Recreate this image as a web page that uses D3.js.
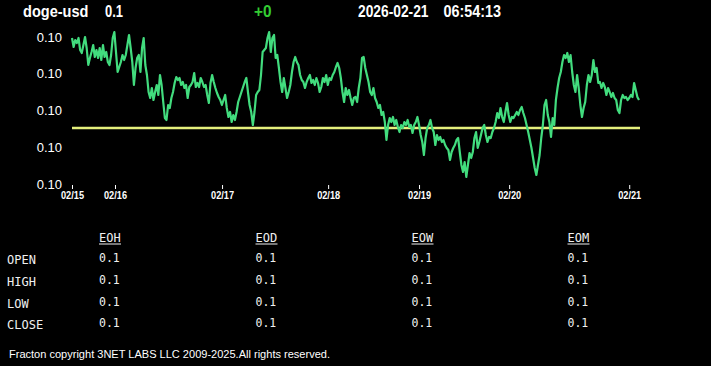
<!DOCTYPE html>
<html><head><meta charset="utf-8">
<script src="https://cdn.jsdelivr.net/npm/d3@7"></script>
<style>
html,body{margin:0;padding:0;background:#000;}
svg{display:block;}
</style></head><body>
<svg id="c" width="711" height="366"></svg>
<script>
// ---- data ----
const symbol = "doge-usd";
const lastPrice = "0.1";
const change = "+0";
const dateText = "2026-02-21";
const timeText = "06:54:13";
const openLevel = 0.1;
const dayLabels = ["02/15","02/16","02/17","02/18","02/19","02/20","02/21"];
const dayTickIndex = [0, 26.4, 92.1, 157.2, 213.0, 268.3, 342.0];
const yTickCount = 5;
const prices = [
0.1009,0.10081,0.10088,0.10085,0.1009,0.10078,0.10075,0.10083,0.10091,0.1008,0.10063,0.1007,0.10076,0.10083,0.10071,0.10078,0.1007,0.1008,0.10068,0.10083,0.10071,0.10076,0.10066,0.10063,0.10073,0.1009,0.10096,0.10076,0.10056,0.10061,0.10066,0.10073,0.10068,0.10073,0.10083,0.10093,0.1008,0.10066,0.10043,0.1006,0.1007,0.10073,0.10056,0.1008,0.1009,0.10063,0.10053,0.10036,0.1003,0.1004,0.10028,0.10036,0.10043,0.10033,0.10053,0.10043,0.10026,0.1001,
0.10008,0.10023,0.1002,0.1003,0.10036,0.10045,0.10051,0.10048,0.1005,0.10043,0.10046,0.1004,0.10043,0.1003,0.10041,0.10043,0.10046,0.10055,0.10041,0.10045,0.10041,0.1005,0.10046,0.10041,0.10043,0.10033,0.10025,0.10045,0.10053,0.10046,0.1004,0.10035,0.10031,0.10028,0.10023,0.10028,0.10033,0.1002,0.10011,0.10016,0.10006,0.10013,0.10008,0.10016,0.10026,0.10031,0.10036,0.10041,0.10046,0.1005,0.10036,0.10023,0.10016,0.10003,0.10016,0.10033,0.10036,0.10038,0.10053,
0.10076,0.10078,0.1008,0.1009,0.10096,0.10076,0.1009,0.10093,0.1007,0.10073,0.1006,0.10046,0.10036,0.1005,0.1004,0.1003,0.10036,0.10043,0.10056,0.10066,0.10071,0.10066,0.10063,0.10053,0.10048,0.10046,0.1004,0.10046,0.1005,0.10053,0.10045,0.10048,0.10043,0.1005,0.10045,0.10036,0.10041,0.1005,0.10046,0.10053,0.10043,0.1005,0.10048,0.10053,0.10056,0.10061,0.10065,0.1006,0.1005,0.10036,0.10026,0.1004,0.10033,0.10038,0.1003,0.10023,0.1003,0.10031,0.10026,0.1004,0.1005,
0.1007,0.10071,0.1006,0.10053,0.10046,0.10036,0.10033,0.1004,0.1003,0.10026,0.1002,0.10023,0.10013,0.10016,0.10006,0.09988,0.10003,0.1001,0.10006,0.10011,0.10003,0.10008,0.10001,0.09996,0.10003,0.1,0.10006,0.10003,0.10008,0.10001,0.10003,0.09995,0.10003,0.10006,0.10011,0.10003,0.09993,0.09986,0.09973,0.0999,0.1,0.10003,0.10008,0.1,0.09996,0.09983,0.09993,0.09988,0.09991,0.09986,0.09988,0.09983,0.0998,0.09978,0.09968,0.09976,0.0998,0.09983,0.09988,
0.0999,0.09976,0.09963,0.09956,0.09966,0.09951,0.09963,0.09975,0.0997,0.09976,0.0999,0.09996,0.0998,0.09986,0.09993,0.1,0.10003,0.09993,0.09986,0.09991,0.0999,0.09996,0.1,0.10006,0.10015,0.1001,0.1002,0.10011,0.10006,0.10016,0.10025,0.10013,0.10006,0.10011,0.1001,0.10013,0.10016,0.10013,0.10018,0.10021,0.10015,0.1001,0.10003,0.09996,0.09988,0.0998,0.0997,0.0996,0.09953,0.09963,0.09973,0.0999,0.10003,0.10023,0.10028,0.10013,0.10006,0.09991,0.1001,
0.10003,0.10028,0.1004,0.1005,0.10056,0.10066,0.10073,0.1007,0.10075,0.10066,0.10073,0.10056,0.10043,0.10036,0.10053,0.1004,0.10023,0.10011,0.1002,0.10026,0.10043,0.10053,0.10046,0.10053,0.10068,0.10056,0.1006,0.10045,0.10046,0.1004,0.10045,0.10041,0.10033,0.1004,0.10036,0.10031,0.10035,0.1003,0.10028,0.10018,0.10015,0.10028,0.10033,0.1003,0.10031,0.10028,0.1003,0.10033,0.10031,0.10045,0.10038,0.10031,0.10028
];
const yDomain = [0.09944, 0.10091];
const tableCols = ["EOH","EOD","EOW","EOM"];
const tableRows = ["OPEN","HIGH","LOW","CLOSE"];
const tableValues = [
  ["0.1","0.1","0.1","0.1"],
  ["0.1","0.1","0.1","0.1"],
  ["0.1","0.1","0.1","0.1"],
  ["0.1","0.1","0.1","0.1"]
];
const footer = "Fracton copyright 3NET LABS LLC 2009-2025.All rights reserved.";

// ---- drawing ----
const svg = d3.select("#c");
const sans = "'Liberation Sans', Arial, sans-serif";
const mono = "'DejaVu Sans Mono', 'Liberation Mono', monospace";

// header
const hdr = [
  {t: symbol, x: 23, w: 65.5, c: "#fff"},
  {t: lastPrice, x: 105, w: 18, c: "#fff"},
  {t: change, x: 254, w: 17.5, c: "#33cc33"},
  {t: dateText, x: 358, w: 70.5, c: "#fff"},
  {t: timeText, x: 443.5, w: 57.5, c: "#fff"}
];
svg.selectAll("text.hdr").data(hdr).join("text")
  .attr("class","hdr")
  .attr("x", d => d.x).attr("y", 17)
  .attr("textLength", d => d.w).attr("lengthAdjust","spacingAndGlyphs")
  .attr("fill", d => d.c)
  .style("font-family", sans).style("font-weight","bold").style("font-size","16.5px")
  .text(d => d.t);

const x = d3.scaleLinear().domain([0, prices.length - 1]).range([72, 639]);
const y = d3.scaleLinear().domain(yDomain).range([184, 37]);

// y labels
const yTicks = d3.range(yTickCount).map(i => yDomain[0] + i * (yDomain[1] - yDomain[0]) / (yTickCount - 1));
svg.append("g").selectAll("text").data(yTicks).join("text")
  .attr("x", 62).attr("y", d => y(d)).attr("dy", "0.35em")
  .attr("text-anchor","end").attr("fill","#fff")
  .style("font-family", sans).style("font-size","13px")
  .text(d => d3.format(".2f")(d));

// x axis
const xAxis = d3.axisBottom(x).tickValues(dayTickIndex)
  .tickFormat((d, i) => dayLabels[i]).tickSize(4).tickPadding(3);
const gx = svg.append("g").attr("transform","translate(0,185)").call(xAxis);
gx.select(".domain").remove();
gx.selectAll("line").attr("stroke","#fff");
gx.selectAll("text").attr("fill","#fff")
  .style("font-family", sans).style("font-weight","bold").style("font-size","10px")
  .attr("textLength", 23).attr("lengthAdjust","spacingAndGlyphs");

// open level line
svg.append("line")
  .attr("x1", x(0)).attr("x2", x(prices.length - 1) + 1)
  .attr("y1", y(openLevel)).attr("y2", y(openLevel))
  .attr("stroke","#e4ef7c").attr("stroke-width", 2.5);

// price line
const line = d3.line().x((d, i) => x(i)).y(d => y(d));
svg.append("path").datum(prices)
  .attr("d", line).attr("fill","none")
  .attr("stroke","#42dc7e").attr("stroke-width", 2.2)
  .attr("stroke-linejoin","round");

// table
const colX = [99, 255.5, 411.5, 567.5];
const tbl = svg.append("g");
tbl.selectAll("text.col").data(tableCols).join("text")
  .attr("class","col").attr("x", (d, i) => colX[i]).attr("y", 242)
  .attr("fill","#f0f0f0").style("font-family", mono).style("font-size","12px")
  .text(d => d);
tbl.selectAll("line.ul").data(tableCols).join("line")
  .attr("class","ul")
  .attr("x1", (d, i) => colX[i]).attr("x2", (d, i) => colX[i] + 22)
  .attr("y1", 244).attr("y2", 244).attr("stroke","#f0f0f0").attr("stroke-width", 1);
const rowY = [264, 286, 307.5, 329];
tbl.selectAll("text.row").data(tableRows).join("text")
  .attr("class","row").attr("x", 7).attr("y", (d, i) => rowY[i])
  .attr("fill","#f0f0f0").style("font-family", mono).style("font-size","12px")
  .text(d => d);
tableValues.forEach((row, r) => {
  tbl.selectAll("text.v" + r).data(row).join("text")
    .attr("class","v" + r).attr("x", (d, i) => colX[i]).attr("y", rowY[r] - 2)
    .attr("fill","#f0f0f0").style("font-family", mono).style("font-size","11.5px")
    .text(d => d);
});

// footer
svg.append("text").attr("x", 9).attr("y", 358)
  .attr("textLength", 321).attr("lengthAdjust","spacingAndGlyphs")
  .attr("fill","#fff").style("font-family", sans).style("font-size","11px")
  .text(footer);
</script>
</body></html>
